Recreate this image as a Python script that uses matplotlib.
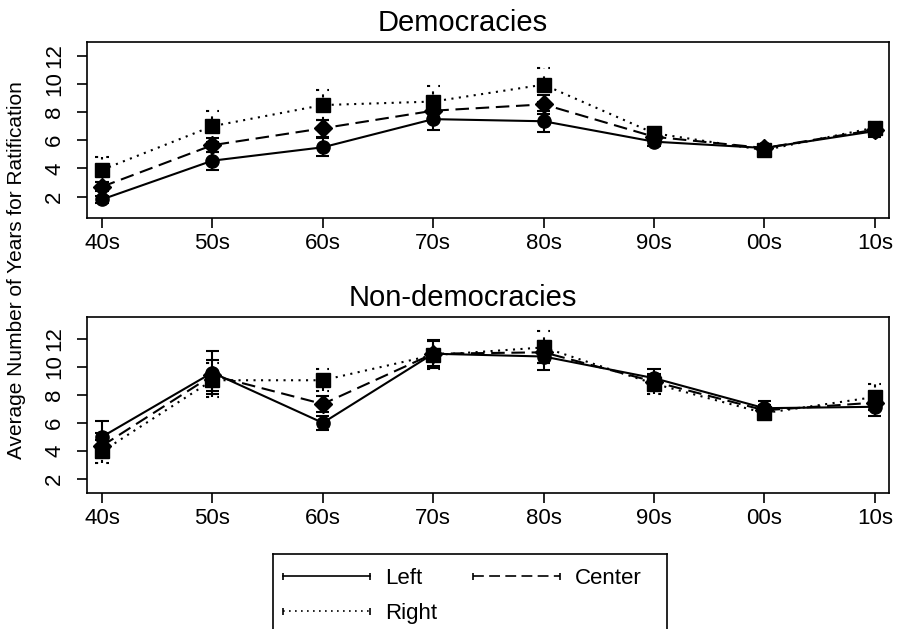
import matplotlib.pyplot as plt
import numpy as np

plt.rcParams['font.family'] = ['Liberation Sans', 'DejaVu Sans']

decades = ['40s', '50s', '60s', '70s', '80s', '90s', '00s', '10s']

# Democracies: mean years to ratification and half-width of the interval
dem_left = [1.8, 4.55, 5.5, 7.5, 7.35, 5.9, 5.45, 6.65]
dem_left_err = [0.25, 0.65, 0.65, 0.75, 0.75, 0.3, 0.2, 0.4]
dem_center = [2.7, 5.65, 6.85, 8.1, 8.55, 6.25, 5.45, 6.75]
dem_center_err = [0.3, 0.5, 0.6, 0.5, 0.65, 0.3, 0.2, 0.35]
dem_right = [3.9, 7.0, 8.5, 8.75, 9.95, 6.5, 5.3, 6.9]
dem_right_err = [0.9, 1.1, 1.05, 1.1, 1.2, 0.3, 0.3, 0.4]

# Non-democracies
non_left = [5.0, 9.6, 6.0, 10.95, 10.75, 9.2, 7.05, 7.15]
non_left_err = [1.15, 1.55, 0.5, 1.0, 1.0, 0.65, 0.5, 0.65]
non_center = [4.35, 9.4, 7.35, 10.95, 11.05, 8.95, 6.9, 7.45]
non_center_err = [0.9, 1.1, 0.6, 0.9, 0.8, 0.5, 0.4, 0.5]
non_right = [3.95, 9.05, 9.05, 10.85, 11.4, 8.8, 6.7, 7.85]
non_right_err = [0.85, 1.2, 0.8, 1.0, 1.15, 0.7, 0.4, 0.9]

groups = ['Left', 'Center', 'Right']
markers = ['o', 'D', 's']
msizes = [9.5, 9, 9.5]
dash_styles = [None, (6.5, 3.2), (1.0, 2.6)]

fig = plt.figure(figsize=(9, 6.29), dpi=100)
ax_top = fig.add_axes([0.097, 0.6539, 0.891, 0.2798])
ax_bot = fig.add_axes([0.097, 0.2167, 0.891, 0.2798])

x = np.arange(len(decades))


def style_line(artist, dash, lw):
    # dashes are given per unit of line width, like plot() scales them
    if dash is not None:
        artist.set_linestyle((0, tuple(d * lw for d in dash)))


def draw_panel(ax, series, errs, ylim):
    for vals, err, mk, ms, dash in zip(series, errs, markers, msizes, dash_styles):
        vals = np.array(vals)
        err = np.array(err)
        line, = ax.plot(x, vals, color='black', lw=1.5, marker=mk, ms=ms)
        if dash is not None:
            line.set_dashes(dash)
        bars = ax.vlines(x, vals - err, vals + err, color='black', lw=1.5)
        caps_lo = ax.hlines(vals - err, x - 0.06, x + 0.06, color='black', lw=1.5)
        caps_hi = ax.hlines(vals + err, x - 0.06, x + 0.06, color='black', lw=1.5)
        for c in (bars, caps_lo, caps_hi):
            style_line(c, dash, 1.5)
    ax.set_xlim(-0.133, 7.13)
    ax.set_ylim(*ylim)
    ax.set_xticks(x)
    ax.set_xticklabels(decades, fontsize=16)
    ax.set_yticks([2, 4, 6, 8, 10, 12])
    ax.set_yticklabels(['2', '4', '6', '8', '10', '12'], fontsize=16,
                       rotation=90, va='center')
    ax.tick_params(direction='out', length=7, width=1.2, pad=4)
    ax.tick_params(axis='y', pad=9)
    for s in ax.spines.values():
        s.set_linewidth(1.2)


draw_panel(ax_top, [dem_left, dem_center, dem_right],
           [dem_left_err, dem_center_err, dem_right_err], (0.5, 13.0))
draw_panel(ax_bot, [non_left, non_center, non_right],
           [non_left_err, non_center_err, non_right_err], (1.0, 13.6))

fig.text(463 / 900, 1 - 30.7 / 629, 'Democracies', fontsize=21,
         ha='center', va='baseline')
fig.text(463 / 900, 1 - 306 / 629, 'Non-democracies', fontsize=21,
         ha='center', va='baseline')
fig.text(17 / 900, 1 - 270 / 629, 'Average Number of Years for Ratification',
         fontsize=15, rotation=90, ha='center', va='center')

# legend box drawn in its own axes, measured in pixels; runs off the bottom edge
leg = fig.add_axes([273.3 / 900, 1 - 650 / 629, (667 - 273.3) / 900, 96 / 629])
leg.set_xlim(273.3, 667)
leg.set_ylim(650, 554)
leg.set_xticks([])
leg.set_yticks([])
for s in leg.spines.values():
    s.set_linewidth(1.2)

key_spots = {'Left': (283, 576), 'Center': (473, 576), 'Right': (283, 611)}
for g, dash in zip(groups, dash_styles):
    x0, y0 = key_spots[g]
    key, = leg.plot([x0, x0 + 87], [y0, y0], color='black', lw=1.2)
    if dash is not None:
        key.set_dashes(dash)
    leg.vlines([x0, x0 + 87], y0 - 3.5, y0 + 3.5, color='black', lw=1.2)
    leg.text(x0 + 102, y0, g, fontsize=16, ha='left', va='center_baseline')

fig.savefig('out.png', dpi=100)
